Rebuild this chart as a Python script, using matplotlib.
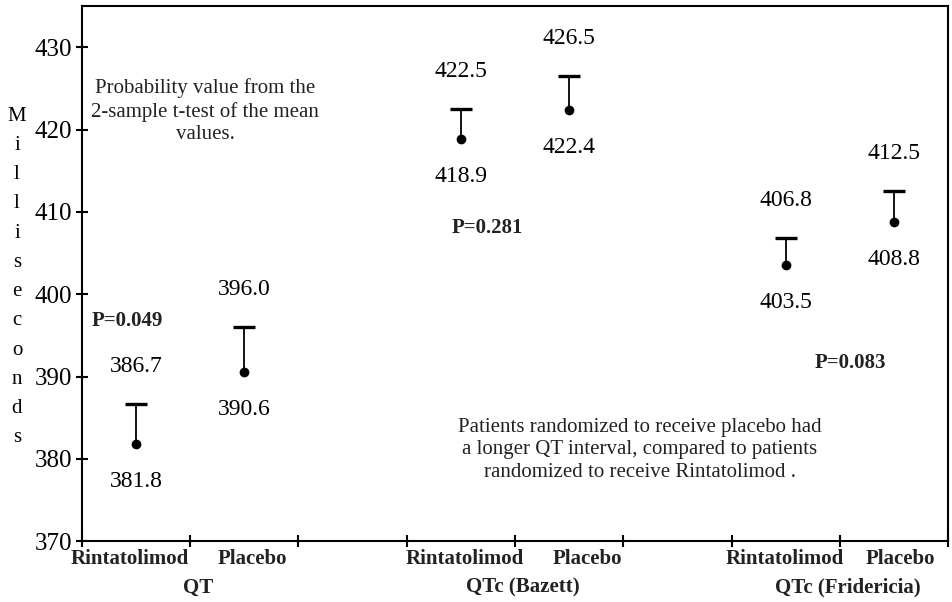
import matplotlib.pyplot as plt
import numpy as np

# QT interval data (milliseconds): mean and upper limit per group
groups = ["QT", "QTc (Bazett)", "QTc (Fridericia)"]
arms = ["Rintatolimod", "Placebo"]
means = [381.8, 390.6, 418.9, 422.4, 403.5, 408.8]
uppers = [386.7, 396.0, 422.5, 426.5, 406.8, 412.5]
p_values = ["P=0.049", "P=0.281", "P=0.083"]

# each group takes 3 slots: Rintatolimod, Placebo, gap
xpos = np.array([0.5, 1.5, 3.5, 4.5, 6.5, 7.5])

plt.rcParams['font.family'] = ['Liberation Serif', 'DejaVu Serif']

fig = plt.figure(figsize=(9.52, 6.02), dpi=100)
ax = fig.add_axes([0.086, 0.101, 0.91, 0.889])

# upper-only error bars: stem, cap and mean point
ax.vlines(xpos, means, uppers, color='black', linewidth=1.3)
ax.plot(xpos, uppers, linestyle='none', marker='_', markersize=16,
        markeredgewidth=2.4, color='black')
ax.plot(xpos, means, linestyle='none', marker='o', markersize=6, color='black')

# value labels above the cap and below the point
for x, m, u in zip(xpos, means, uppers):
    ax.annotate(f"{u:.1f}", (x, u), xytext=(0, 27), textcoords='offset points',
                ha='center', va='center', fontsize=17)
    ax.annotate(f"{m:.1f}", (x, m), xytext=(0, -27), textcoords='offset points',
                ha='center', va='center', fontsize=17)

ax.set_xlim(0, 8)
ax.set_ylim(370, 435)
ax.set_yticks(np.arange(370, 431, 10))
ax.set_xticks(np.arange(0, 9))
ax.set_xticklabels([])
ax.tick_params(axis='y', direction='inout', length=8, width=1.5, labelsize=18, pad=3)
ax.tick_params(axis='x', direction='inout', length=9, width=1.5)
for s in ax.spines.values():
    s.set_linewidth(1.5)

# arm labels and group labels below the axis
tr = ax.get_xaxis_transform()
arm_x = [0.44, 1.57, 3.54, 4.67, 6.49, 7.56]
for i, x in enumerate(arm_x):
    ax.text(x, -0.034, arms[i % 2], transform=tr, ha='center', va='center',
            fontsize=15, fontweight='bold', color='#222222')
for i, g in enumerate(groups):
    ax.text(1.07 + 3 * i, -0.087, g, transform=tr, ha='center', va='center',
            fontsize=15, fontweight='bold', color='#222222')

# p values
ax.text(0.42, 396.8, p_values[0], ha='center', va='center', fontsize=15, fontweight='bold', color='#222222')
ax.text(3.74, 408.1, p_values[1], ha='center', va='center', fontsize=15, fontweight='bold', color='#222222')
ax.text(7.1, 391.65, p_values[2], ha='center', va='center', fontsize=15, fontweight='bold', color='#222222')

ax.text(1.14, 422.2, "Probability value from the\n2-sample t-test of the mean\nvalues.",
        ha='center', va='center', fontsize=15, linespacing=1.25, color='#222222')
ax.text(5.15, 381.1, "Patients randomized to receive placebo had\n"
        "a longer QT interval, compared to patients\n"
        "randomized to receive Rintatolimod .",
        ha='center', va='center', fontsize=15, linespacing=1.25, color='#222222')

# stacked y label
fig.text(17 / 952, 1 - 277 / 602, "\n".join("Milliseconds"), ha='center', va='center',
         fontsize=15, linespacing=1.73)

fig.savefig("out.png", dpi=100)
